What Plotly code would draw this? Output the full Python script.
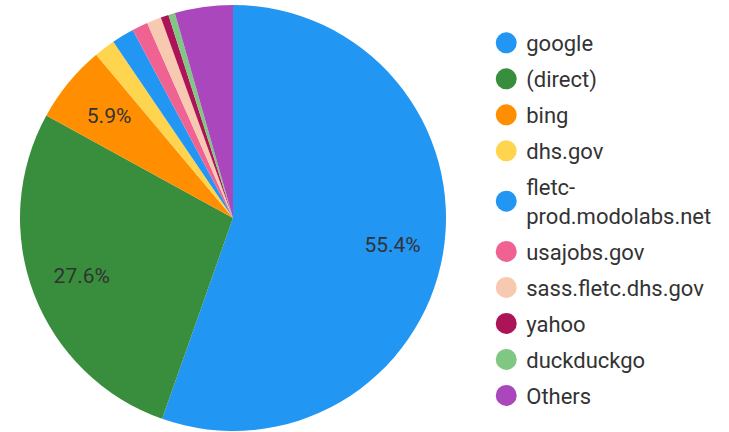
import plotly.graph_objects as go

labels = ['google', '(direct)', 'bing', 'dhs.gov', 'fletc-<br>prod.modolabs.net',
          'usajobs.gov', 'sass.fletc.dhs.gov', 'yahoo', 'duckduckgo', 'Others']
values = [55.4, 27.6, 5.9, 1.6, 1.7, 1.2, 1.1, 0.6, 0.5, 4.4]
colors = ['#2196F3', '#388E3C', '#FF8F00', '#FFD54F', '#2196F3',
          '#F06292', '#F8C9B1', '#AD1457', '#81C784', '#AB47BC']
# only the big slices carry a label
shown_big = ['55.4%', '27.6%', '', '', '', '', '', '', '', '']
shown_bing = ['', '', '5.9%', '', '', '', '', '', '', '']

pie_domain = dict(x=[20 / 729, 446 / 729], y=[1 / 432, 427 / 432])
# same centre, smaller radius: narrow slices get their text pulled inwards
small_domain = dict(x=[43 / 729, 423 / 729], y=[24 / 432, 404 / 432])

fig = go.Figure()
fig.add_trace(
    go.Pie(
        labels=labels,
        values=values,
        textinfo='none',
        marker=dict(colors=colors, line=dict(color='white', width=0)),
        sort=False,
        direction='clockwise',
        rotation=0,
        showlegend=False,
        domain=pie_domain
    )
)
# transparent rings on top, just to place the percentages
for shown, dom in [(shown_big, pie_domain), (shown_bing, small_domain)]:
    fig.add_trace(
        go.Pie(
            labels=labels,
            values=values,
            text=shown,
            textinfo='text',
            textposition='inside',
            insidetextorientation='horizontal',
            textfont=dict(family='Roboto', size=21, color='#333333'),
            marker=dict(colors=['rgba(0,0,0,0)'] * len(values),
                        line=dict(width=0)),
            hole=0.52,
            sort=False,
            direction='clockwise',
            rotation=0,
            showlegend=False,
            hoverinfo='skip',
            domain=dom
        )
    )

# circle legend entries
for lab, col in zip(labels, colors):
    fig.add_trace(
        go.Scatter(
            x=[None], y=[None],
            mode='markers',
            name=lab,
            legendgroup=lab,
            marker=dict(color=col, size=16, symbol='circle',
                        line=dict(color=col, width=5))
        )
    )

fig.update_xaxes(visible=False)
fig.update_yaxes(visible=False)

fig.update_layout(
    width=729,
    height=432,
    margin=dict(l=0, r=0, t=0, b=0),
    paper_bgcolor='white',
    plot_bgcolor='white',
    font=dict(family='Roboto', color='#333333'),
    legend=dict(
        x=0.667, y=0.949,
        xanchor='left', yanchor='top',
        font=dict(family='Roboto', size=22, color='#333333'),
        tracegroupgap=4.4,
        itemwidth=30
    )
)

# drop the default body margin so the figure sits at the page corner
fig.write_html('out.html', config={'displayModeBar': False},
               post_script="document.body.style.margin='0';")
